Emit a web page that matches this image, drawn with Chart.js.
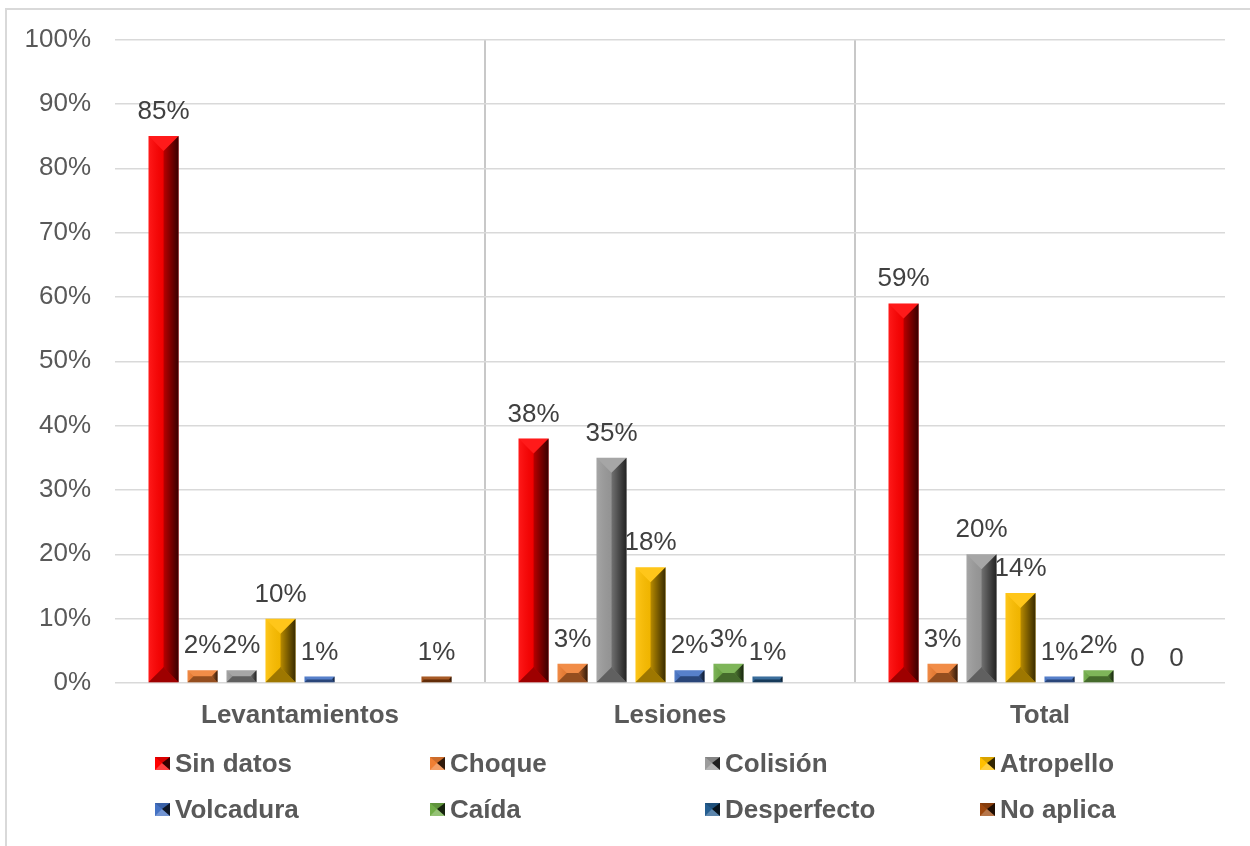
<!DOCTYPE html>
<html>
<head>
<meta charset="utf-8">
<script src="https://cdn.jsdelivr.net/npm/chart.js@4/dist/chart.umd.min.js"></script>
<style>
  html, body { margin: 0; padding: 0; background: #ffffff; }
  #wrap { position: relative; width: 1250px; height: 846px; overflow: hidden; background: #fff; }
  #frame { position: absolute; left: 5px; top: 8px; width: 1400px; height: 1000px; border: 2px solid #d9d9d9; box-sizing: border-box; }
  #c { position: absolute; left: 0; top: 0; }
  .lg { position: absolute; height: 30px; display: flex; align-items: center;
        font-family: 'Liberation Sans', Arial, sans-serif; font-weight: bold; font-size: 26px; color: #595959; white-space: nowrap; }
  .mk { width: 0; height: 0; border-style: solid; border-width: 6px 8px 7px 7px; margin-right: 5px; }
</style>
</head>
<body>
<div id="wrap">
  <div id="frame"></div>
  <canvas id="c" width="1250" height="846"></canvas>
  <div id="legend"></div>
</div>
<script>
// ---- data ----
const categories = ['Levantamientos', 'Lesiones', 'Total'];
const seriesNames = ['Sin datos', 'Choque', 'Colisión', 'Atropello', 'Volcadura', 'Caída', 'Desperfecto', 'No aplica'];
const sinDatos    = [85, 38, 59];
const choque      = [2, 3, 3];
const colision    = [2, 35, 20];
const atropello   = [10, 18, 14];
const volcadura   = [1, 2, 1];
const caida       = [null, 3, 2];
const desperfecto = [null, 1, 0];
const noAplica    = [1, null, 0];
const seriesValues = [sinDatos, choque, colision, atropello, volcadura, caida, desperfecto, noAplica];
const seriesColors = ['#FF0000', '#F07F33', '#9C9C9C', '#FFC000', '#4472C4', '#70AD47', '#255E91', '#9E480E'];
const yMax = 100;
const yStep = 10;

// ---- helpers ----
function hexRgb(h) { const n = parseInt(h.slice(1), 16); return [(n >> 16) & 255, (n >> 8) & 255, n & 255]; }
function shade(h, f) { const c = hexRgb(h).map(v => Math.round(v * f)); return 'rgb(' + c.join(',') + ')'; }
function tint(h, f) { const c = hexRgb(h).map(v => Math.round(v + (255 - v) * f)); return 'rgb(' + c.join(',') + ')'; }

const FONT = "'Liberation Sans', Arial, sans-serif";

const bevelPlugin = {
  id: 'bevel',
  afterDatasetsDraw(chart) {
    const ctx = chart.ctx;
    chart.data.datasets.forEach((ds, i) => {
      const meta = chart.getDatasetMeta(i);
      if (meta.hidden) return;
      meta.data.forEach((el, j) => {
        const v = ds.data[j];
        if (v === null || v === undefined || v === 0) return;
        const p = el.getProps(['x', 'y', 'base', 'width'], true);
        const x0 = p.x - p.width / 2, x1 = p.x + p.width / 2;
        const top = Math.min(p.y, p.base), bot = Math.max(p.y, p.base);
        const w = x1 - x0, h = bot - top;
        if (h <= 0) return;
        const d = Math.min(w / 2, h / 2);
        const poly = (pts, fill) => {
          ctx.beginPath();
          ctx.moveTo(pts[0][0], pts[0][1]);
          for (let k = 1; k < pts.length; k++) ctx.lineTo(pts[k][0], pts[k][1]);
          ctx.closePath();
          ctx.fillStyle = fill;
          ctx.fill();
        };
        ctx.save();
        let gl = ctx.createLinearGradient(x0, 0, x0 + d, 0);
        gl.addColorStop(0, 'rgba(255,255,255,0.10)');
        gl.addColorStop(1, 'rgba(0,0,0,0.06)');
        poly([[x0, top], [x0 + d, top + d], [x0 + d, bot - d], [x0, bot]], gl);
        let gr = ctx.createLinearGradient(x1 - d, 0, x1, 0);
        gr.addColorStop(0, 'rgba(0,0,0,0.28)');
        gr.addColorStop(1, 'rgba(0,0,0,0.78)');
        poly([[x1, top], [x1 - d, top + d], [x1 - d, bot - d], [x1, bot]], gr);
        poly([[x0, top], [x1, top], [x1 - d, top + d], [x0 + d, top + d]], 'rgba(255,255,255,0.10)');
        poly([[x0, bot], [x1, bot], [x1 - d, bot - d], [x0 + d, bot - d]], 'rgba(0,0,0,0.38)');
        ctx.restore();
      });
    });
  }
};

const labelPlugin = {
  id: 'valueLabels',
  afterDatasetsDraw(chart) {
    const ctx = chart.ctx;
    ctx.save();
    ctx.font = '26px ' + FONT;
    ctx.fillStyle = '#404040';
    ctx.textAlign = 'center';
    ctx.textBaseline = 'alphabetic';
    chart.data.datasets.forEach((ds, i) => {
      const meta = chart.getDatasetMeta(i);
      meta.data.forEach((el, j) => {
        const v = ds.data[j];
        if (v === null || v === undefined) return;
        const txt = v === 0 ? '0' : v + '%';
        ctx.fillText(txt, el.x, el.y - 17);
      });
    });
    ctx.restore();
  }
};

const datasets = seriesNames.map((name, i) => ({
  label: name,
  data: seriesValues[i],
  backgroundColor: seriesColors[i],
  borderWidth: 0,
  categoryPercentage: 0.843,
  barPercentage: 0.77
}));

new Chart(document.getElementById('c'), {
  type: 'bar',
  data: { labels: categories, datasets: datasets },
  options: {
    responsive: false,
    animation: false,
    layout: { padding: { left: 0, top: 38, right: 25, bottom: 103 } },
    plugins: { legend: { display: false }, tooltip: { enabled: false } },
    scales: {
      x: {
        afterFit(s) { s.height = 60; },
        border: { display: false },
        grid: {
          offset: true,
          drawTicks: false,
          lineWidth: 2,
          color: (c) => (c.index === 1 || c.index === 2) ? '#c8c8c8' : 'rgba(0,0,0,0)'
        },
        ticks: { font: { family: FONT, size: 26, weight: 'bold' }, color: '#595959', padding: 17 }
      },
      y: {
        min: 0, max: yMax,
        afterFit(s) { s.width = 115; },
        border: { display: false },
        grid: { drawTicks: false, color: '#d9d9d9', lineWidth: 1.5 },
        ticks: {
          stepSize: yStep,
          padding: 24,
          font: { family: FONT, size: 26 },
          color: '#595959',
          callback: (v) => v + '%'
        }
      }
    }
  },
  plugins: [bevelPlugin, labelPlugin]
});

// ---- legend (HTML) ----
const legend = document.getElementById('legend');
seriesNames.forEach((name, i) => {
  const col = i % 4, row = Math.floor(i / 4);
  const item = document.createElement('div');
  item.className = 'lg';
  item.style.left = (155 + col * 275) + 'px';
  item.style.top = (748 + row * 46) + 'px';
  const mk = document.createElement('span');
  mk.className = 'mk';
  const c = seriesColors[i];
  mk.style.borderTopColor = shade(c, 0.85);
  mk.style.borderLeftColor = c;
  mk.style.borderRightColor = shade(c, 0.2);
  mk.style.borderBottomColor = tint(c, 0.25);
  item.appendChild(mk);
  const t = document.createElement('span');
  t.textContent = name;
  item.appendChild(t);
  legend.appendChild(item);
});
</script>
</body>
</html>
